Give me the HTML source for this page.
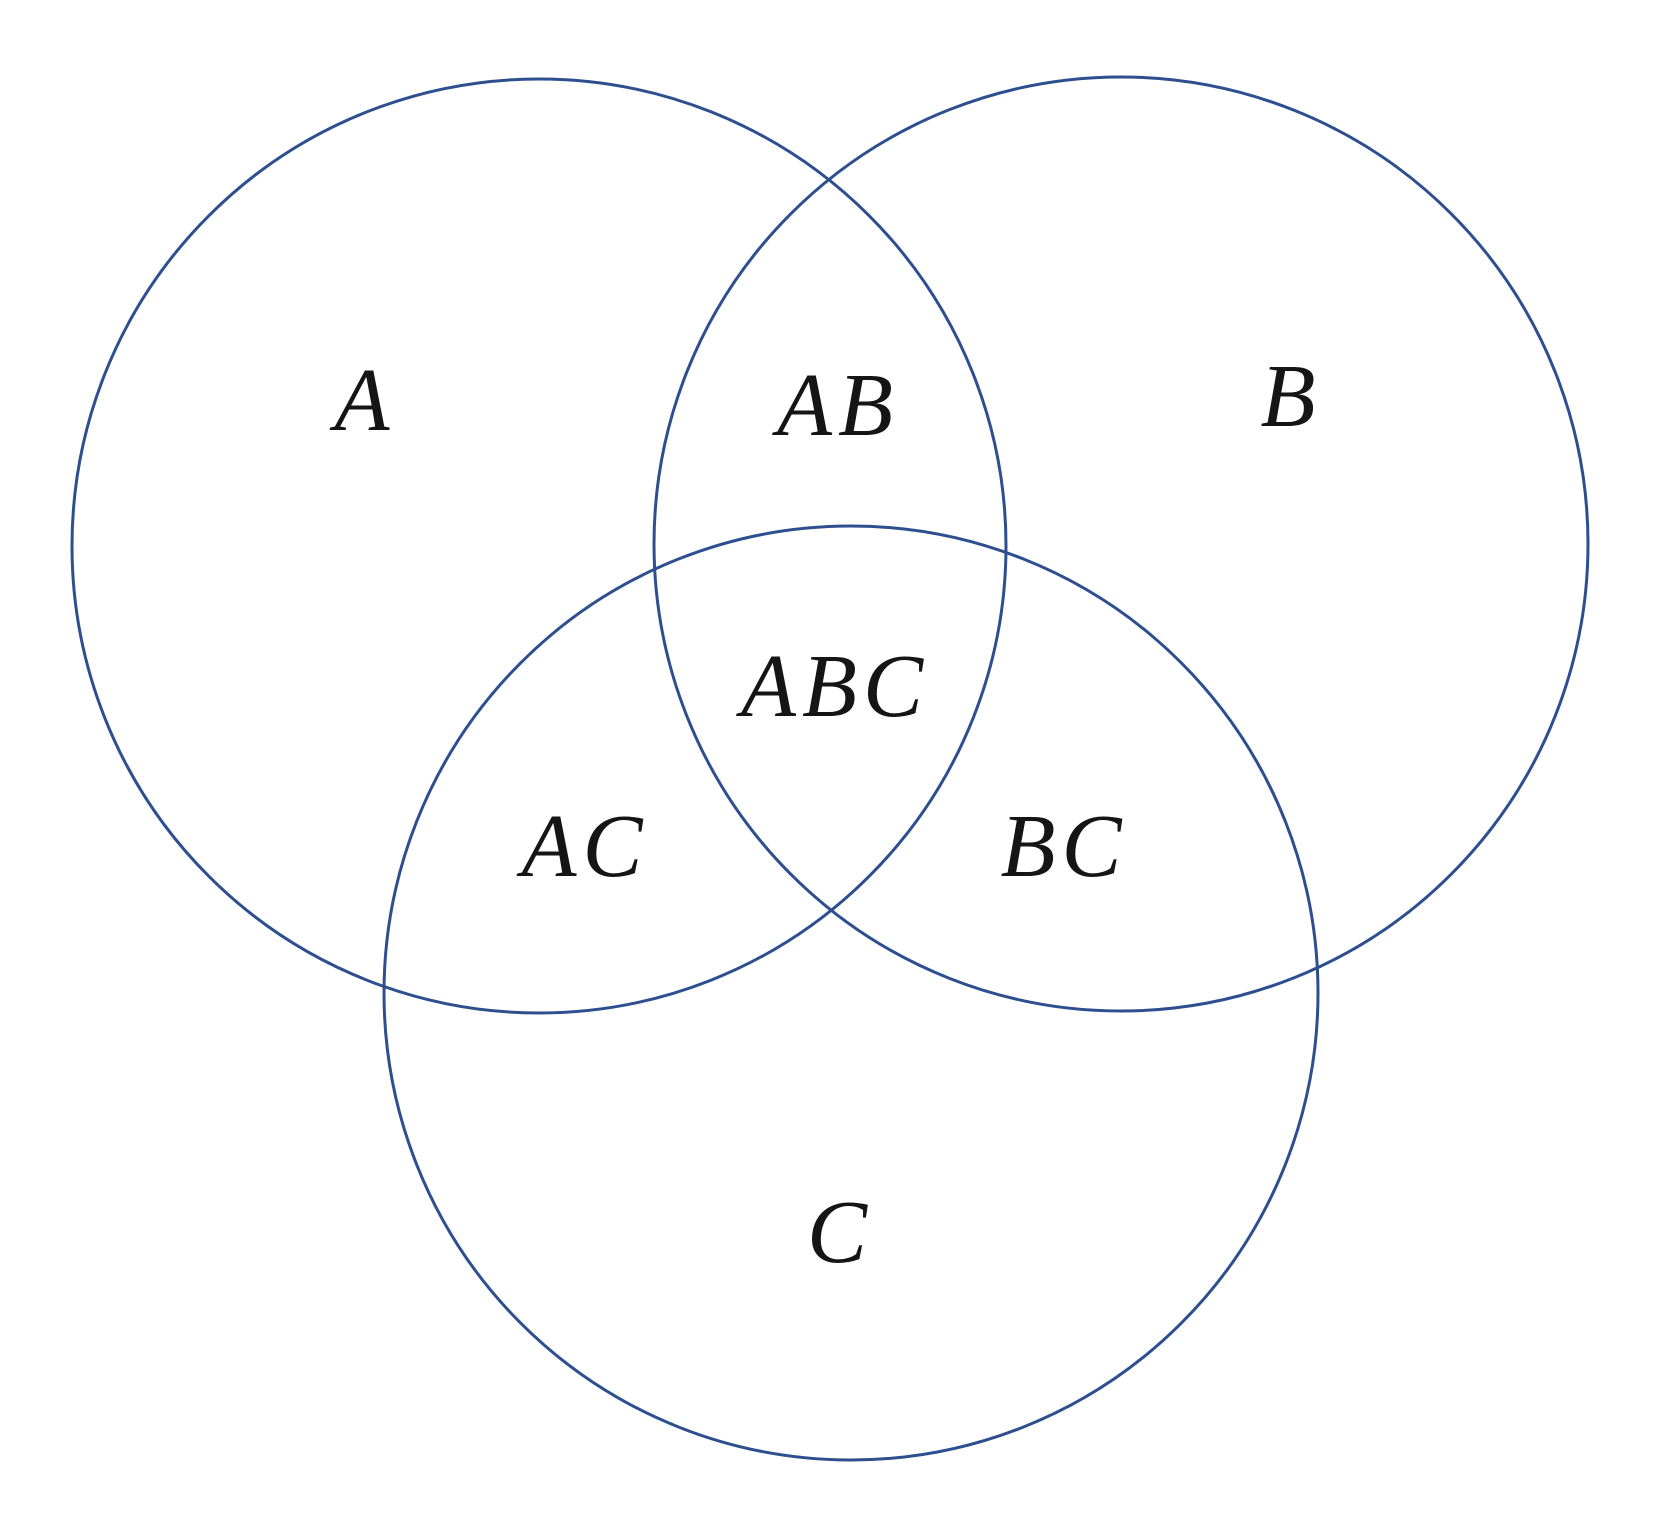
<!DOCTYPE html>
<html><head><style>html,body{margin:0;padding:0;background:#fff}</style></head>
<body>
<svg width="1660" height="1528" viewBox="0 0 1660 1528" xmlns="http://www.w3.org/2000/svg">
<rect width="1660" height="1528" fill="#fff"/>
<g fill="none" stroke="#2e4f8f" stroke-width="3">
<circle cx="539" cy="546" r="467"/>
<circle cx="1121" cy="544" r="467"/>
<circle cx="851" cy="993" r="467"/>
</g>
<g font-family="Liberation Serif, serif" font-style="italic" font-size="90" fill="#151515" text-anchor="middle" letter-spacing="6">
<text x="365" y="430">A</text>
<text x="838" y="435">AB</text>
<text x="1291" y="426">B</text>
<text x="835" y="716">ABC</text>
<text x="585" y="876">AC</text>
<text x="1064" y="876">BC</text>
<text x="840" y="1262">C</text>
</g>
</svg>
</body></html>
